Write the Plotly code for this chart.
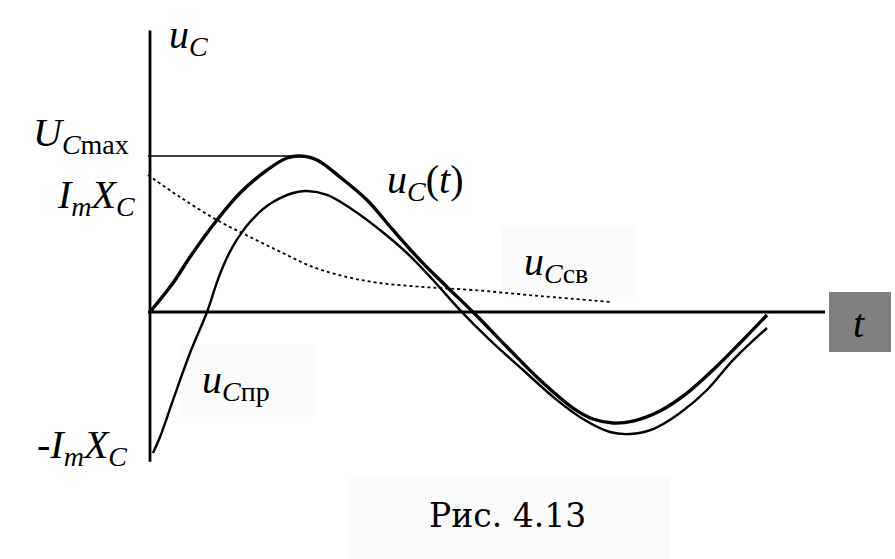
import plotly.graph_objects as go

# ---- data (t in arbitrary time units, u in units of Im*Xc) ----
t_uc = [0, 0.23, 0.40, 0.67, 0.90, 1.17, 1.37, 1.50, 1.67, 1.90, 2.17, 2.43, 2.70, 2.97, 3.23,
        3.57, 3.90, 4.23, 4.43, 4.63, 4.83, 5.10, 5.37, 5.63, 5.90, 6.17]
u_uc = [0, 0.207, 0.393, 0.657, 0.85, 1.014, 1.10, 1.114, 1.086, 0.964, 0.80, 0.586, 0.371, 0.179, 0,
        -0.25, -0.486, -0.686, -0.764, -0.793, -0.779, -0.707, -0.579, -0.414, -0.221, -0.021]

t_pr = [0.03, 0.10, 0.23, 0.40, 0.57, 0.67, 0.75, 0.83, 0.92, 1.00, 1.12, 1.23, 1.43, 1.57, 1.77,
        2.03, 2.30, 2.57, 2.83, 3.10, 3.40, 3.73, 4.07, 4.33, 4.60, 4.80, 5.03, 5.30, 5.57, 5.83, 6.17]
u_pr = [-1.007, -0.893, -0.629, -0.293, 0, 0.214, 0.357, 0.471, 0.571, 0.643, 0.729, 0.786, 0.85,
        0.864, 0.836, 0.729, 0.586, 0.421, 0.229, 0.014, -0.20, -0.414, -0.629, -0.764, -0.857,
        -0.871, -0.836, -0.721, -0.557, -0.343, -0.114]

t_sv = [-0.02, 0.30, 0.67, 1.00, 1.33, 1.63, 1.97, 2.30, 2.73, 3.23, 3.90, 4.62]
u_sv = [0.979, 0.821, 0.657, 0.536, 0.421, 0.321, 0.25, 0.207, 0.179, 0.157, 0.114, 0.071]

UC_MAX = 1.114
T_UC_MAX = 1.50
AXIS_T = [-0.02, 6.75]
AXIS_U = [-1.07, 2.01]

W, H = 895, 559
X_RANGE = [-1.5, 7.45]
Y_RANGE = [-1.764, 2.2286]

def px(x):
    return x / W

def py(y):
    return 1 - y / H

fig = go.Figure()

# faint label backgrounds
for (x0, y0, x1, y1) in [(502, 226, 637, 297), (180, 345, 315, 417), (347, 478, 670, 559)]:
    fig.add_shape(type="rect", xref="paper", yref="paper", x0=px(x0), x1=px(x1), y0=py(y1), y1=py(y0),
                  line=dict(width=0), fillcolor="#fbfbfb", layer="below")

# axes
fig.add_trace(go.Scatter(x=[0, 0], y=AXIS_U, mode="lines", line=dict(color="black", width=2.8),
                         hoverinfo="skip", showlegend=False))
fig.add_trace(go.Scatter(x=AXIS_T, y=[0, 0], mode="lines", line=dict(color="black", width=2.8),
                         hoverinfo="skip", showlegend=False))
# Ucmax line
fig.add_trace(go.Scatter(x=[AXIS_T[0], T_UC_MAX], y=[UC_MAX, UC_MAX], mode="lines",
                         line=dict(color="black", width=1.6), hoverinfo="skip", showlegend=False))

# free component (dotted)
fig.add_trace(go.Scatter(x=t_sv, y=u_sv, mode="lines", line=dict(color="black", width=1.8, dash="dot", shape="spline"),
                         showlegend=False))
# forced component
fig.add_trace(go.Scatter(x=t_pr, y=u_pr, mode="lines", line=dict(color="black", width=2.4, shape="spline"),
                         showlegend=False))
# total
fig.add_trace(go.Scatter(x=t_uc, y=u_uc, mode="lines", line=dict(color="black", width=3.4, shape="spline"),
                         showlegend=False))

# gray box with t
fig.add_shape(type="rect", xref="paper", yref="paper", x0=px(829), x1=px(891), y0=py(352), y1=py(292),
              line=dict(width=0), fillcolor="#808080")

SERIF = "Liberation Serif"
FS = 40

def ann(text, x, y, xanchor="left", yanchor="bottom", size=FS, family=SERIF):
    fig.add_annotation(text=text, xref="paper", yref="paper", x=px(x), y=py(y), xanchor=xanchor,
                       yanchor=yanchor, showarrow=False, font=dict(family=family, size=size, color="black"))

ann("<i>u<sub>C</sub></i>", 167, 64)
ann("<i>U<sub>C</sub></i><sub>max</sub>", 131, 162, xanchor="right")
ann("<i>I<sub>m</sub>X<sub>C</sub></i>", 137, 224, xanchor="right")
ann("-<i>I<sub>m</sub>X<sub>C</sub></i>", 35, 474, xanchor="left")
ann("<i>u<sub>C</sub></i>(<i>t</i>)", 385, 209)
ann("<i>u<sub>C</sub></i><sub>св</sub>", 522, 291)
ann("<i>u<sub>C</sub></i><sub>пр</sub>", 200, 409)
ann("<i>t</i>", 859, 323, xanchor="center", yanchor="middle")
ann("Рис. 4.13", 508, 515, xanchor="center", yanchor="middle", size=33, family="DejaVu Serif")

fig.update_layout(
    width=W, height=H, margin=dict(l=0, r=0, t=0, b=0),
    paper_bgcolor="white", plot_bgcolor="white",
    xaxis=dict(range=X_RANGE, visible=False, fixedrange=True),
    yaxis=dict(range=Y_RANGE, visible=False, fixedrange=True),
    showlegend=False,
)

fig.write_html("out.html", config={"displayModeBar": False},
               post_script="document.body.style.margin='0';document.body.style.overflow='hidden';")
